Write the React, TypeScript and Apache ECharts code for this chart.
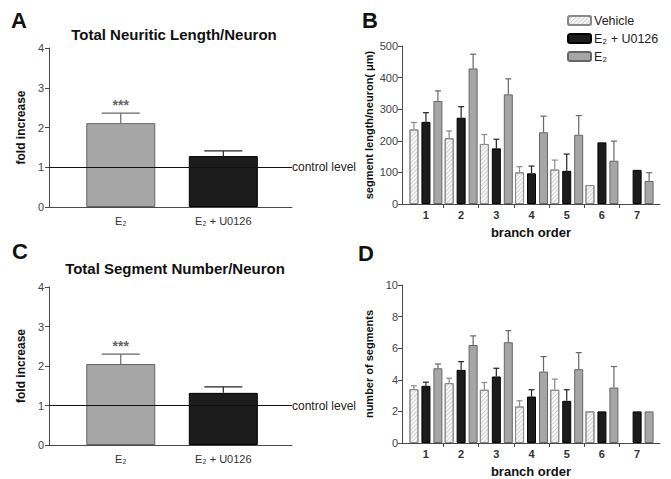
import React, { useEffect, useRef } from 'react';
import * as echarts from 'echarts';

// ---------- data ----------
const foldCategories = ['E₂', 'E₂ + U0126'];
const foldPositions = [1, 2];
const neuriticFold = [2.11, 1.28];
const neuriticFoldSem = [0.25, 0.13];
const segmentFold = [2.05, 1.32];
const segmentFoldSem = [0.25, 0.15];
const foldSignificance = ['***', ''];

const seriesNames = ['Vehicle', 'E₂ + U0126', 'E₂'];
const branchOrders = [1, 2, 3, 4, 5, 6, 7];
const branchBoundaries = [1.5, 2.5, 3.5, 4.5, 5.5, 6.5];

const lengthVehicle = [236, 208, 190, 100, 109, 60, null];
const lengthVehicleSem = [22, 23, 30, 18, 30, 0, 0];
const lengthU0126 = [260, 273, 176, 97, 105, 195, 108];
const lengthU0126Sem = [29, 35, 29, 23, 53, 0, 0];
const lengthE2 = [326, 429, 347, 227, 219, 137, 73];
const lengthE2Sem = [32, 45, 49, 51, 61, 62, 26];

const segVehicle = [3.41, 3.79, 3.37, 2.31, 3.37, 2.0, null];
const segVehicleSem = [0.21, 0.31, 0.46, 0.36, 0.67, 0, 0];
const segU0126 = [3.62, 4.63, 4.21, 2.94, 2.67, 2.0, 2.0];
const segU0126Sem = [0.23, 0.52, 0.52, 0.43, 0.7, 0, 0];
const segE2 = [4.73, 6.2, 6.38, 4.52, 4.67, 3.51, 2.0];
const segE2Sem = [0.27, 0.58, 0.73, 0.95, 1.05, 1.33, 0];

// ---------- styles ----------
const FONT = '"Liberation Sans", Arial, Helvetica, sans-serif';
const AXIS_COLOR = '#4a4a4a';
const grayStyle = { color: '#a6a6a6', borderColor: '#666', borderWidth: 1 };
const blackStyle = { color: '#1c1c1c', borderColor: '#000', borderWidth: 1 };
const vehicleStyle = {
  color: '#f7f7f7',
  borderColor: '#8a8a8a',
  borderWidth: 1,
  decal: {
    symbol: 'rect',
    symbolSize: 1,
    color: 'rgba(140,140,140,0.35)',
    dashArrayX: [1, 0],
    dashArrayY: [1, 2],
    rotation: -Math.PI / 4,
  },
};
const barStyles = [vehicleStyle, blackStyle, grayStyle];
const errColors = ['#8a8a8a', '#222', '#666'];
const barOffsets = [-12, 0, 12];

const makeErrorRender =
  (offset: number, colors: string[], cap: number, labels?: string[]) =>
  (params: any, api: any) => {
    const x = api.value(0);
    const y = api.value(1);
    const e = api.value(2);
    const idx = params.dataIndex;
    const color = colors[idx % colors.length];
    const children: any[] = [];
    if (e > 0) {
      const base = api.coord([x, y]);
      const top = api.coord([x, y + e]);
      const cx = base[0] + offset;
      children.push({
        type: 'line',
        shape: { x1: cx, y1: base[1], x2: cx, y2: top[1] },
        style: { stroke: color, lineWidth: 1.2 },
      });
      children.push({
        type: 'line',
        shape: { x1: cx - cap, y1: top[1], x2: cx + cap, y2: top[1] },
        style: { stroke: color, lineWidth: 1.2 },
      });
      if (labels && labels[idx]) {
        children.push({
          type: 'text',
          x: cx,
          y: top[1] - 1,
          style: {
            text: labels[idx],
            textAlign: 'center',
            textVerticalAlign: 'bottom',
            fill: '#666',
            font: `bold 14px ${FONT}`,
          },
        });
      }
    }
    return { type: 'group', children };
  };

const foldXAxis = (gridIndex: number) => ({
  type: 'value',
  gridIndex,
  min: 0.3,
  max: 2.67,
  splitLine: { show: false },
  axisLine: { show: true, lineStyle: { color: AXIS_COLOR, width: 1 } },
  axisTick: { show: false },
  axisLabel: {
    customValues: foldPositions,
    formatter: (v: number) => foldCategories[foldPositions.indexOf(v)] ?? '',
    fontSize: 11,
    color: '#333',
    fontFamily: FONT,
    margin: 8,
  },
});

const foldYAxis = (gridIndex: number) => ({
  type: 'value',
  gridIndex,
  min: 0,
  max: 4,
  interval: 1,
  splitLine: { show: false },
  axisLine: { show: true, lineStyle: { color: AXIS_COLOR, width: 1 } },
  axisTick: { show: true, length: 4, lineStyle: { color: AXIS_COLOR } },
  axisLabel: { fontSize: 11, color: '#444', fontFamily: FONT, margin: 5 },
  name: 'fold increase',
  nameLocation: 'middle',
  nameGap: 22,
  nameTextStyle: { fontSize: 12, fontWeight: 'bold', color: '#111', fontFamily: FONT },
});

const branchXAxis = (gridIndex: number) => ({
  type: 'value',
  gridIndex,
  min: 0.32,
  max: 7.65,
  splitLine: { show: false },
  axisLine: { show: true, lineStyle: { color: AXIS_COLOR, width: 1 } },
  axisTick: {
    show: true,
    customValues: branchBoundaries,
    length: 4,
    lineStyle: { color: AXIS_COLOR },
  },
  axisLabel: {
    customValues: branchOrders,
    fontSize: 11,
    fontWeight: 'bold',
    color: '#333',
    fontFamily: FONT,
    margin: 5,
  },
  name: 'branch order',
  nameLocation: 'middle',
  nameGap: 22,
  nameTextStyle: { fontSize: 13, fontWeight: 'bold', color: '#111', fontFamily: FONT },
});

const branchYAxis = (gridIndex: number, max: number, interval: number, name: string) => ({
  type: 'value',
  gridIndex,
  min: 0,
  max,
  interval,
  splitLine: { show: false },
  axisLine: { show: true, lineStyle: { color: AXIS_COLOR, width: 1 } },
  axisTick: { show: true, length: 4, lineStyle: { color: AXIS_COLOR } },
  axisLabel: { fontSize: 11, color: '#444', fontFamily: FONT, margin: 4 },
  name,
  nameLocation: 'middle',
  nameGap: 28,
  nameTextStyle: { fontSize: 11, fontWeight: 'bold', color: '#111', fontFamily: FONT },
});

const controlMarkLine = {
  silent: true,
  symbol: 'none',
  data: [{ yAxis: 1 }],
  lineStyle: { color: '#111', width: 1, type: 'solid' },
  label: {
    show: true,
    position: 'end',
    formatter: 'control level',
    fontSize: 12,
    color: '#222',
    fontFamily: FONT,
    distance: 0,
  },
};

const foldSeries = (axisIndex: number, values: number[], sems: number[], labels?: string[]) => [
  {
    type: 'bar',
    xAxisIndex: axisIndex,
    yAxisIndex: axisIndex,
    barWidth: 69,
    data: foldPositions.map((p, i) => ({
      value: [p, values[i]],
      itemStyle: i === 0 ? grayStyle : blackStyle,
    })),
    markLine: controlMarkLine,
  },
  {
    type: 'custom',
    xAxisIndex: axisIndex,
    yAxisIndex: axisIndex,
    z: 5,
    clip: false,
    encode: { x: 0, y: 1 },
    renderItem: makeErrorRender(0, ['#666', '#222'], 19, labels),
    data: foldPositions.map((p, i) => [p, values[i], sems[i]]),
  },
];

const branchSeries = (axisIndex: number, groups: (number | null)[][], sems: number[][]) => {
  const out: any[] = [];
  groups.forEach((vals, s) => {
    const pts = branchOrders
      .map((b, i) => (vals[i] == null ? null : [b, vals[i]]))
      .filter((d) => d !== null);
    out.push({
      type: 'bar',
      name: seriesNames[s],
      xAxisIndex: axisIndex,
      yAxisIndex: axisIndex,
      barWidth: 9,
      barGap: '33%',
      itemStyle: barStyles[s],
      data: pts,
    });
  });
  groups.forEach((vals, s) => {
    const pts = branchOrders
      .map((b, i) => (vals[i] == null ? null : [b, vals[i], sems[s][i]]))
      .filter((d) => d !== null);
    out.push({
      type: 'custom',
      xAxisIndex: axisIndex,
      yAxisIndex: axisIndex,
      z: 5,
      clip: false,
      encode: { x: 0, y: 1 },
      renderItem: makeErrorRender(barOffsets[s], [errColors[s]], 3),
      data: pts,
    });
  });
  return out;
};

const textEl = (text: string, x: number, y: number, size: number, align = 'left') => ({
  type: 'text',
  x,
  y,
  style: {
    text,
    textAlign: align,
    textVerticalAlign: 'middle',
    fill: '#111',
    font: `bold ${size}px ${FONT}`,
  },
});

export default function App() {
  const ref = useRef<HTMLDivElement>(null);
  useEffect(() => {
    document.body.style.margin = '0';
    if (!ref.current) return;
    const chart = echarts.init(ref.current, undefined, { renderer: 'svg' });
    chart.setOption({
      animation: false,
      backgroundColor: '#fff',
      textStyle: { fontFamily: FONT },
      grid: [
        { left: 49, top: 48, width: 243, height: 159 },
        { left: 402, top: 46, width: 258, height: 158 },
        { left: 49, top: 287, width: 243, height: 158 },
        { left: 402, top: 285, width: 258, height: 158 },
      ],
      xAxis: [foldXAxis(0), branchXAxis(1), foldXAxis(2), branchXAxis(3)],
      yAxis: [
        foldYAxis(0),
        branchYAxis(1, 500, 100, 'segment length/neuron( μm)'),
        foldYAxis(2),
        branchYAxis(3, 10, 2, 'number of segments'),
      ],
      legend: {
        data: seriesNames,
        orient: 'vertical',
        left: 562,
        top: 9,
        itemWidth: 23,
        itemHeight: 9,
        itemGap: 5,
        selectedMode: false,
        textStyle: { fontSize: 12.5, color: '#222', fontFamily: FONT, padding: [0, 0, 0, -2] },
      },
      graphic: [
        textEl('A', 11, 20, 22),
        textEl('B', 362, 20, 22),
        textEl('C', 12, 251, 22),
        textEl('D', 358, 253, 22),
        textEl('Total Neuritic Length/Neuron', 174, 34, 15, 'center'),
        textEl('Total Segment Number/Neuron', 175, 268, 15, 'center'),
      ],
      series: [
        ...foldSeries(0, neuriticFold, neuriticFoldSem, foldSignificance),
        ...branchSeries(1, [lengthVehicle, lengthU0126, lengthE2], [lengthVehicleSem, lengthU0126Sem, lengthE2Sem]),
        ...foldSeries(2, segmentFold, segmentFoldSem, foldSignificance),
        ...branchSeries(3, [segVehicle, segU0126, segE2], [segVehicleSem, segU0126Sem, segE2Sem]),
      ],
    });
    return () => chart.dispose();
  }, []);
  return <div ref={ref} style={{ width: 671, height: 479 }} />;
}
